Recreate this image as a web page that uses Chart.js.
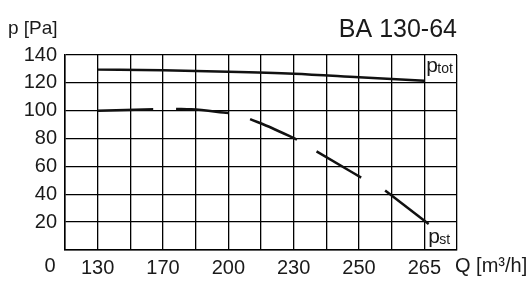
<!DOCTYPE html>
<html>
<head>
<meta charset="utf-8">
<script src="https://cdn.jsdelivr.net/npm/chart.js@4"></script>
<style>
  html, body { margin: 0; padding: 0; background: #fff; }
  #wrap { width: 532px; height: 287px; }
</style>
</head>
<body>
<div id="wrap"><canvas id="fanChart" width="532" height="287"></canvas></div>
<script>
// Q tick labels and the grid column each one sits on
const qLabels = [130, 170, 200, 230, 250, 265];
const qPositions = [1, 3, 5, 7, 9, 11];
const yTicks = [0, 20, 40, 60, 80, 100, 120, 140];

// total pressure curve
const ptotQ = [130, 170, 200, 230, 250, 265];
const ptotValues = [129.5, 129, 128, 126.5, 124, 121.5];

// static pressure curve (drawn in pieces, null = gap)
const pstQ = [130, 164, null, 176, 183, 200, null, 210, 220, 231, null, 237, 250.5, null, 256, 266];
const pstValues = [100, 101, null, 101.3, 101, 98.4, null, 94, 87.6, 79.2, null, 70.8, 52, null, 42.7, 18.7];

const FONT = '"Liberation Sans", Arial, Helvetica, sans-serif';
const INK = '#1a1a1a';

// map a flow value onto the (non linear) column axis
function toPos(q) {
    let i = 0;
    while (i < qLabels.length - 2 && q > qLabels[i + 1]) i++;
    const q0 = qLabels[i], q1 = qLabels[i + 1];
    return qPositions[i] + (q - q0) / (q1 - q0) * (qPositions[i + 1] - qPositions[i]);
}

function buildSegments(qs, vals) {
    const segs = [];
    let cur = [];
    for (let i = 0; i < qs.length; i++) {
        if (qs[i] === null) {
            if (cur.length) segs.push(cur);
            cur = [];
        } else {
            cur.push({ x: toPos(qs[i]), y: vals[i] });
        }
    }
    if (cur.length) segs.push(cur);
    return segs;
}

const lineStyle = {
    borderColor: '#111',
    borderWidth: 2.5,
    pointRadius: 0,
    cubicInterpolationMode: 'monotone',
    fill: false,
    borderCapStyle: 'butt'
};

const datasets = [
    Object.assign({ label: 'ptot', data: ptotQ.map((q, i) => ({ x: toPos(q), y: ptotValues[i] })) }, lineStyle)
];
buildSegments(pstQ, pstValues).forEach(function(seg, i) {
    datasets.push(Object.assign({ label: 'pst' + i, data: seg }, lineStyle));
});

// extra texts: title, axis names, the "0" corner label, curve names
const textPlugin = {
    id: 'texts',
    afterDraw(chart) {
        const ctx = chart.ctx;
        const xs = chart.scales.x;
        const area = chart.chartArea;
        ctx.save();
        ctx.fillStyle = INK;
        ctx.textBaseline = 'alphabetic';

        ctx.font = '25px ' + FONT;
        ctx.textAlign = 'right';
        ctx.fillText('BA 130-64', area.right, 37);

        ctx.font = '19px ' + FONT;
        ctx.textAlign = 'left';
        ctx.fillText('p [Pa]', 8, 34);

        ctx.font = '20px ' + FONT;
        ctx.textAlign = 'center';
        ctx.textBaseline = 'middle';
        ctx.fillText('0', 50, 266);

        ctx.textAlign = 'left';
        ctx.fillText('Q [m\u00b3/h]', area.right - 2, 266);

        // curve names
        ctx.textBaseline = 'alphabetic';
        const px = xs.getPixelForValue(11);
        ctx.font = '21px ' + FONT;
        ctx.fillText('p', px + 2, 72);
        ctx.font = '14px ' + FONT;
        ctx.fillText('tot', px + 13, 73);
        ctx.font = '21px ' + FONT;
        ctx.fillText('p', px + 4, 243);
        ctx.font = '14px ' + FONT;
        ctx.fillText('st', px + 15, 244);
        ctx.restore();
    }
};

new Chart(document.getElementById('fanChart'), {
    type: 'line',
    data: { datasets: datasets },
    options: {
        responsive: false,
        animation: false,
        layout: { padding: { left: 0, right: 75, top: 55, bottom: 0 } },
        plugins: {
            legend: { display: false },
            tooltip: { enabled: false },
            title: { display: false }
        },
        scales: {
            x: {
                type: 'linear',
                min: 0,
                max: 12,
                afterFit(scale) { scale.height = 37; },
                afterBuildTicks(scale) {
                    scale.ticks = [];
                    for (let k = 0; k <= 12; k++) scale.ticks.push({ value: k });
                },
                grid: { color: '#000', lineWidth: 1.3, drawTicks: false },
                border: { color: '#000', width: 1.5 },
                ticks: {
                    padding: 6,
                    autoSkip: false,
                    maxRotation: 0,
                    color: INK,
                    font: { family: FONT, size: 20 },
                    callback(v) {
                        const i = qPositions.indexOf(v);
                        return i >= 0 ? String(qLabels[i]) : '';
                    }
                }
            },
            y: {
                type: 'linear',
                min: 0,
                max: 140,
                afterFit(scale) { scale.width = 65; },
                afterBuildTicks(scale) {
                    scale.ticks = yTicks.map(v => ({ value: v }));
                },
                grid: { color: '#000', lineWidth: 1.3, drawTicks: false },
                border: { color: '#000', width: 1.5 },
                ticks: {
                    padding: 8,
                    color: INK,
                    font: { family: FONT, size: 20 },
                    callback(v) { return v === 0 ? '' : String(v); }
                }
            }
        }
    },
    plugins: [textPlugin]
});
</script>
</body>
</html>
